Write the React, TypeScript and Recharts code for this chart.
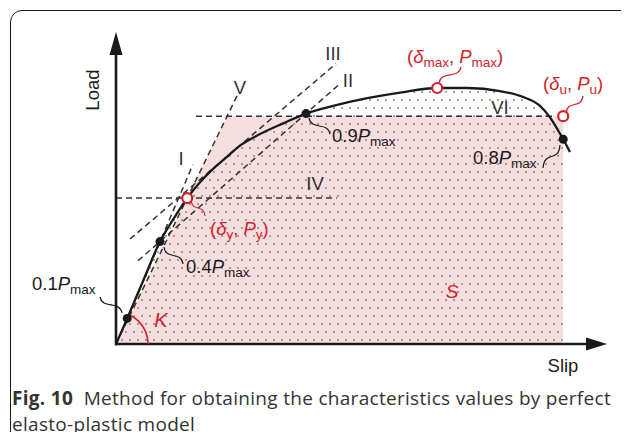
import { ComposedChart, Line, Area, XAxis, YAxis, ReferenceLine, ReferenceDot } from 'recharts'

// load–slip curve, load in units of Pmax
const SLIP = [0, 0.28, 0.7, 1.1, 1.45, 1.78, 2.1, 2.4, 2.75, 3.1, 3.6, 4.18, 4.75, 5.43, 6.28, 7.1, 8.03, 8.78, 9.6, 10.18, 10.6, 10.85, 11.05, 11.18, 11.35]
const LOAD = [0, 0.1, 0.255, 0.4, 0.492, 0.57, 0.632, 0.68, 0.728, 0.775, 0.82, 0.862, 0.9, 0.93, 0.96, 0.982, 1.0, 1.0, 0.988, 0.965, 0.93, 0.885, 0.835, 0.8, 0.75]

const DELTA_U = 11.18
const P_U = 0.89

// black points on the curve
const KEY_SLIP = [0.28, 1.1, 4.75, 11.18]
const KEY_LOAD = [0.1, 0.4, 0.9, 0.8]

// red points: (δy, Py), (δmax, Pmax), (δu, Pu)
const RED_SLIP = [1.78, 8.03, DELTA_U]
const RED_LOAD = [0.57, 1.0, P_U]

// elasto-plastic area S
const S_SLIP = [0, 2.78, DELTA_U]
const S_LOAD = [0, P_U, P_U]

// construction lines I..VI
const LINE_NAMES = ['I', 'II', 'III', 'IV', 'V', 'VI']
const LINE_FROM = [[0.15, 0.052], [0.55, 0.325], [0.35, 0.41], [0, 0.57], [0, 0], [2.0, P_U]]
const LINE_TO = [[1.92, 0.7], [5.55, 1.01], [5.5, 1.095], [5.52, 0.57], [3.05, 0.977], [10.93, P_U]]
const NAME_POS = [[1.625, 0.699], [5.8, 1.004], [5.425, 1.109], [4.975, 0.602], [3.1, 0.977], [9.6, 0.898]]

const CURVE = SLIP.map((s, i) => ({ slip: s, load: LOAD[i] }))
const DOTTED = CURVE.filter(d => d.slip <= DELTA_U)
const S_AREA = S_SLIP.map((s, i) => ({ slip: s, load: S_LOAD[i] }))

const RED = '#d2232a'
const INK = '#1a1a1a'
const FONT = '"Liberation Sans", Arial, sans-serif'

type Part = { t: string; i?: boolean; s?: boolean }

function Rich({ x, y, parts, size = 18.5, color = INK, anchor = 'start' }: { x: number; y: number; parts: Part[]; size?: number; color?: string; anchor?: string }) {
  let shifted = false
  return (
    <text x={x} y={y} fontSize={size} fill={color} textAnchor={anchor as any} fontFamily={FONT} style={{ whiteSpace: 'pre' }}>
      {parts.map((p, k) => {
        let dy = 0
        if (p.s && !shifted) { dy = 4; shifted = true }
        else if (!p.s && shifted) { dy = -4; shifted = false }
        return (
          <tspan key={k} dy={dy || undefined} fontStyle={p.i ? 'italic' : undefined} fontSize={p.s ? 13.5 : undefined}>{p.t}</tspan>
        )
      })}
    </text>
  )
}

const pmax = (n: string): Part[] => [{ t: n }, { t: 'P', i: true }, { t: 'max', s: true }]

const leader = (color: string) => (p: any) => {
  const { x1, y1, x2, y2 } = p
  const dx = x2 - x1, dy = y2 - y1
  return <path d={`M${x1},${y1} C${x1 + dx * 0.1},${y1 + dy * 0.8} ${x1 + dx * 0.9},${y1 + dy * 0.2} ${x2},${y2}`} stroke={color} strokeWidth={1.2} fill="none" />
}

const arrow = (axis: 'x' | 'y') => (p: any) => {
  const { x1, y1, x2, y2 } = p
  if (axis === 'x') {
    const tip = Math.max(x1, x2), base = Math.min(x1, x2)
    return (
      <g>
        <line x1={base - 1} y1={y1} x2={tip - 18} y2={y1} stroke={INK} strokeWidth={2.6} />
        <polygon points={`${tip},${y1} ${tip - 21},${y1 - 6.5} ${tip - 21},${y1 + 6.5}`} fill={INK} />
      </g>
    )
  }
  const tip = Math.min(y1, y2), base = Math.max(y1, y2)
  return (
    <g>
      <line x1={x1} y1={base + 1.3} x2={x1} y2={tip + 18} stroke={INK} strokeWidth={2.6} />
      <polygon points={`${x1},${tip} ${x1 - 6.5},${tip + 23} ${x1 + 6.5},${tip + 23}`} fill={INK} />
    </g>
  )
}

const textAt = (node: (x: number, y: number) => any) => (p: any) => node(p.cx, p.cy)

export default function App() {
  return (
    <div style={{ position: 'relative', width: 629, height: 440, margin: -8, overflow: 'hidden', background: '#fff' }}>
      <svg width={0} height={0} style={{ position: 'absolute' }}>
        <defs>
          <pattern id="dots" width={8} height={16} patternUnits="userSpaceOnUse">
            <circle cx={2} cy={4} r={1} fill="#858585" />
            <circle cx={6} cy={12} r={1} fill="#858585" />
          </pattern>
        </defs>
      </svg>

      <div style={{ position: 'absolute', left: 10, top: 10, width: 627, height: 600, boxSizing: 'border-box', border: '1.3px solid #1a1a1a', borderRadius: 12 }} />

      <div style={{ position: 'absolute', left: 0, top: 0 }}>
        <ComposedChart width={629} height={440} margin={{ top: 32, right: 22, bottom: 96, left: 116 }}>
          <XAxis type="number" dataKey="slip" domain={[0, 12.275]} allowDataOverflow hide />
          <YAxis type="number" dataKey="load" domain={[0, 1.21875]} allowDataOverflow hide />

          <Area data={S_AREA} dataKey="load" type="linear" fill="#f6dede" fillOpacity={1} stroke="none" isAnimationActive={false} />
          <Area data={DOTTED} dataKey="load" type="monotone" fill="url(#dots)" fillOpacity={1} stroke="none" isAnimationActive={false} />

          {LINE_NAMES.map((n, i) => (
            <ReferenceLine key={n} segment={[{ x: LINE_FROM[i][0], y: LINE_FROM[i][1] }, { x: LINE_TO[i][0], y: LINE_TO[i][1] }]}
              stroke="#333" strokeWidth={1.5} strokeDasharray="6 4" ifOverflow="visible" />
          ))}

          <ReferenceLine segment={[{ x: 0, y: 0 }, { x: 12.275, y: 0 }]} ifOverflow="visible" shape={arrow('x')} />
          <ReferenceLine segment={[{ x: 0, y: 0 }, { x: 0, y: 1.21875 }]} ifOverflow="visible" shape={arrow('y')} />

          <Line data={CURVE} dataKey="load" type="monotone" stroke={INK} strokeWidth={2.3} dot={false} activeDot={false} isAnimationActive={false} />

          {/* leaders */}
          <ReferenceLine segment={[{ x: 0.15, y: 0.121 }, { x: -0.4, y: 0.184 }]} ifOverflow="visible" shape={leader(INK)} />
          <ReferenceLine segment={[{ x: 1.2, y: 0.379 }, { x: 1.675, y: 0.3125 }]} ifOverflow="visible" shape={leader(INK)} />
          <ReferenceLine segment={[{ x: 4.825, y: 0.883 }, { x: 5.35, y: 0.82 }]} ifOverflow="visible" shape={leader(INK)} />
          <ReferenceLine segment={[{ x: 11.1, y: 0.777 }, { x: 10.675, y: 0.6875 }]} ifOverflow="visible" shape={leader(INK)} />
          <ReferenceLine segment={[{ x: 1.875, y: 0.5625 }, { x: 2.225, y: 0.5 }]} ifOverflow="visible" shape={leader(RED)} />
          <ReferenceLine segment={[{ x: 8.075, y: 1.02 }, { x: 8.625, y: 1.082 }]} ifOverflow="visible" shape={leader(RED)} />
          <ReferenceLine segment={[{ x: 11.25, y: 0.902 }, { x: 11.675, y: 0.969 }]} ifOverflow="visible" shape={leader(RED)} />

          {/* stiffness arc K */}
          <ReferenceDot x={0} y={0} r={32} ifOverflow="visible" shape={(p: any) => (
            <path d={`M${p.cx + 32},${p.cy} A32,32 0 0 0 ${p.cx + 32 * Math.cos(1.117)},${p.cy - 32 * Math.sin(1.117)}`} stroke={RED} strokeWidth={1.6} fill="none" />
          )} />

          {KEY_SLIP.map((s, i) => (
            <ReferenceDot key={'k' + i} x={s} y={KEY_LOAD[i]} r={4.5} fill={INK} stroke="none" ifOverflow="visible" />
          ))}
          {RED_SLIP.map((s, i) => (
            <ReferenceDot key={'r' + i} x={s} y={RED_LOAD[i]} r={5} fill="#fff" stroke={RED} strokeWidth={2.2} ifOverflow="visible" />
          ))}

          {LINE_NAMES.map((n, i) => (
            <ReferenceDot key={'n' + n} x={NAME_POS[i][0]} y={NAME_POS[i][1]} r={1} ifOverflow="visible"
              shape={textAt((x, y) => <text x={x} y={y} textAnchor="middle" fontSize={18.5} fill="#333" fontFamily={FONT}>{n}</text>)} />
          ))}

          <ReferenceDot x={-2.1} y={0.211} r={1} ifOverflow="visible" shape={textAt((x, y) => <Rich x={x} y={y} parts={pmax('0.1')} />)} />
          <ReferenceDot x={1.75} y={0.277} r={1} ifOverflow="visible" shape={textAt((x, y) => <Rich x={x} y={y} parts={pmax('0.4')} />)} />
          <ReferenceDot x={5.4} y={0.789} r={1} ifOverflow="visible" shape={textAt((x, y) => <Rich x={x} y={y} parts={pmax('0.9')} />)} />
          <ReferenceDot x={8.925} y={0.703} r={1} ifOverflow="visible" shape={textAt((x, y) => <Rich x={x} y={y} parts={pmax('0.8')} />)} />

          <ReferenceDot x={2.35} y={0.426} r={1} ifOverflow="visible" shape={textAt((x, y) => (
            <Rich x={x} y={y} color={RED} parts={[{ t: '(' }, { t: 'δ', i: true }, { t: 'y', s: true }, { t: ', ' }, { t: 'P', i: true }, { t: 'y', s: true }, { t: ')' }]} />
          ))} />
          <ReferenceDot x={7.275} y={1.098} r={1} ifOverflow="visible" shape={textAt((x, y) => (
            <Rich x={x} y={y} color={RED} parts={[{ t: '(' }, { t: 'δ', i: true }, { t: 'max', s: true }, { t: ', ' }, { t: 'P', i: true }, { t: 'max', s: true }, { t: ')' }]} />
          ))} />
          <ReferenceDot x={10.675} y={0.992} r={1} ifOverflow="visible" shape={textAt((x, y) => (
            <Rich x={x} y={y} color={RED} parts={[{ t: '(' }, { t: 'δ', i: true }, { t: 'u', s: true }, { t: ', ' }, { t: 'P', i: true }, { t: 'u', s: true }, { t: ')' }]} />
          ))} />

          <ReferenceDot x={1.125} y={0.066} r={1} ifOverflow="visible" shape={textAt((x, y) => (
            <text x={x} y={y} textAnchor="middle" fontSize={20} fontStyle="italic" fill={RED} fontFamily={FONT}>K</text>
          ))} />
          <ReferenceDot x={8.4} y={0.18} r={1} ifOverflow="visible" shape={textAt((x, y) => (
            <text x={x} y={y} textAnchor="middle" fontSize={19} fontStyle="italic" fill={RED} fontFamily={FONT}>S</text>
          ))} />

          <ReferenceDot x={-0.425} y={0.992} r={1} ifOverflow="visible" shape={textAt((x, y) => (
            <text x={x} y={y} transform={`rotate(-90 ${x} ${y})`} textAnchor="middle" fontSize={18.5} fill={INK} fontFamily={FONT}>Load</text>
          ))} />
          <ReferenceDot x={11.175} y={-0.109} r={1} ifOverflow="visible" shape={textAt((x, y) => (
            <text x={x} y={y} textAnchor="middle" fontSize={18.5} fill={INK} fontFamily={FONT}>Slip</text>
          ))} />
        </ComposedChart>
      </div>

      <div style={{ position: 'absolute', left: 12, top: 385, width: 620, fontFamily: '"Open Sans", sans-serif', fontSize: 19, letterSpacing: 0.3, lineHeight: '26px', color: '#333', whiteSpace: 'nowrap' }}>
        <b>Fig. 10</b>&nbsp; Method for obtaining the characteristics values by perfect<br />
        elasto-plastic model
      </div>
    </div>
  )
}
